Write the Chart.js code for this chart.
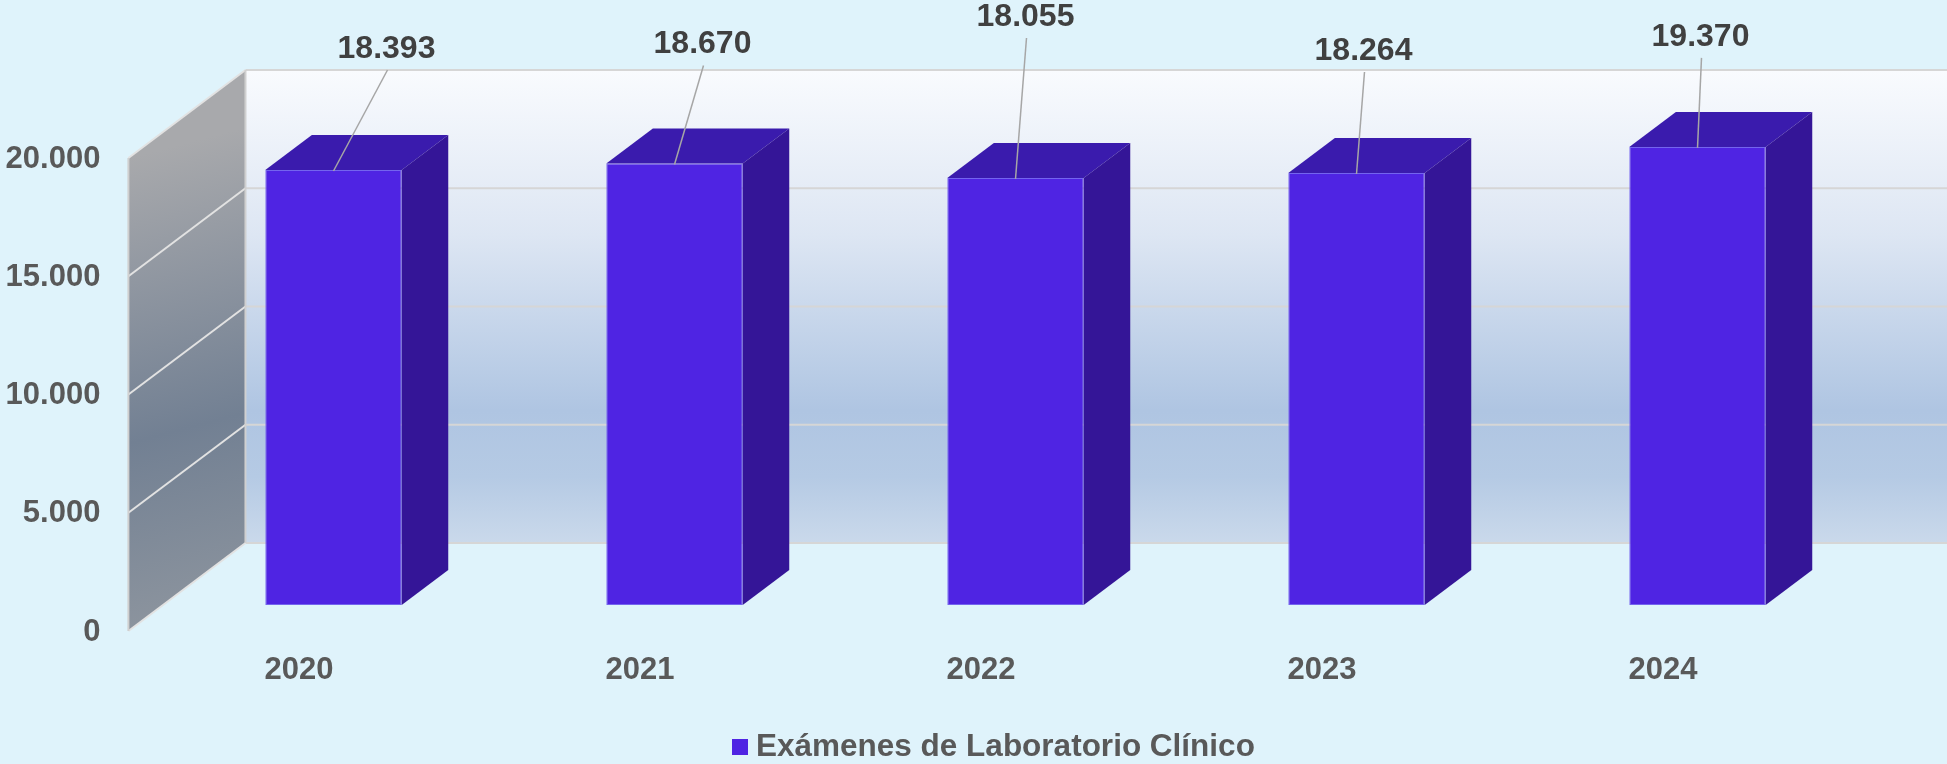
<!doctype html>
<html lang="es">
<head>
  <meta charset="utf-8">
  <title>Exámenes de Laboratorio Clínico</title>
  <script src="https://cdn.jsdelivr.net/npm/chart.js"></script>
  <style>
    html, body { margin: 0; padding: 0; background: #DFF3FB; }
    canvas { display: block; }
  </style>
<script>
// data
var years = ["2020", "2021", "2022", "2023", "2024"];
var examenes = [18393, 18670, 18055, 18264, 19370];
var yTicks = [0, 5000, 10000, 15000, 20000];
var seriesName = "Exámenes de Laboratorio Clínico";

// where each value label sits relative to the top of its bar (Excel moved them by hand)
var labelShift = [[53, -122], [28, -120], [10, -162], [7, -123], [3, -111]];

// 3d look: depth goes up and to the right
var slope = 1.33;       // dx per px of dy
var backDepth = 62;     // bar front plane -> back wall
var frontDepth = 26;    // bar front plane -> floor front edge
var barDepth = 35;

var FONT = '"Liberation Sans", Arial, sans-serif';

function fmt(n) {
  return String(n).replace(/\B(?=(\d{3})+(?!\d))/g, ".");
}

var threeD = {
  id: 'threeD',
  beforeDatasetsDraw: function(chart) {
    var ctx = chart.ctx, a = chart.chartArea, y = chart.scales.y;
    var bx = backDepth * slope, by = -backDepth;
    var fx = -frontDepth * slope, fy = frontDepth;
    var yTop = y.getPixelForValue(yTicks[yTicks.length - 1]);
    var yBot = y.getPixelForValue(0);

    ctx.save();
    // back wall
    var g = ctx.createLinearGradient(0, yTop + by, 0, yBot + by);
    g.addColorStop(0, "#F9FBFE");
    g.addColorStop(0.35, "#DDE6F3");
    g.addColorStop(0.72, "#AFC5E2");
    g.addColorStop(0.86, "#B5CAE4");
    g.addColorStop(1, "#CAD9EB");
    ctx.fillStyle = g;
    ctx.fillRect(a.left + bx, yTop + by, chart.width - (a.left + bx), yBot - yTop);

    // side wall
    var sg = ctx.createLinearGradient(a.left + fx, yTop + fy, a.left + bx, yBot + by + 60);
    sg.addColorStop(0, "#A8A9AC");
    sg.addColorStop(0.6, "#728093");
    sg.addColorStop(1, "#8C949E");
    ctx.fillStyle = sg;
    ctx.beginPath();
    ctx.moveTo(a.left + fx, yTop + fy);
    ctx.lineTo(a.left + bx, yTop + by);
    ctx.lineTo(a.left + bx, yBot + by);
    ctx.lineTo(a.left + fx, yBot + fy);
    ctx.closePath();
    ctx.fill();

    // grid lines on both walls
    ctx.lineWidth = 2;
    yTicks.forEach(function(v) {
      var py = y.getPixelForValue(v);
      ctx.strokeStyle = "#D6D6D6";
      ctx.beginPath();
      ctx.moveTo(a.left + bx, py + by);
      ctx.lineTo(chart.width, py + by);
      ctx.stroke();
      ctx.strokeStyle = "#E2E2E2";
      ctx.beginPath();
      ctx.moveTo(a.left + bx, py + by);
      ctx.lineTo(a.left + fx, py + fy);
      ctx.stroke();
    });
    ctx.strokeStyle = "#D0D0D0";
    ctx.beginPath();
    ctx.moveTo(a.left + fx, yTop + fy);
    ctx.lineTo(a.left + fx, yBot + fy);
    ctx.moveTo(a.left + bx, yTop + by);
    ctx.lineTo(a.left + bx, yBot + by);
    ctx.stroke();

    // y tick labels on the front edge
    ctx.fillStyle = "#595959";
    ctx.font = "bold 31px " + FONT;
    ctx.textAlign = "right";
    ctx.textBaseline = "middle";
    yTicks.forEach(function(v) {
      ctx.fillText(fmt(v), a.left + fx - 28, y.getPixelForValue(v) + fy + 1);
    });
    ctx.restore();
  },
  afterDatasetsDraw: function(chart) {
    var ctx = chart.ctx, a = chart.chartArea, xs = chart.scales.x, y = chart.scales.y;
    var meta = chart.getDatasetMeta(0);
    var dx = barDepth * slope, dy = -barDepth;
    var fx = -frontDepth * slope, fy = frontDepth;

    ctx.save();
    meta.data.forEach(function(bar, i) {
      var p = bar.getProps(['x', 'y', 'width', 'base'], true);
      var l = p.x - p.width / 2, r = p.x + p.width / 2;
      // top
      ctx.fillStyle = "#3A1BAD";
      ctx.beginPath();
      ctx.moveTo(l, p.y);
      ctx.lineTo(l + dx, p.y + dy);
      ctx.lineTo(r + dx, p.y + dy);
      ctx.lineTo(r, p.y);
      ctx.closePath();
      ctx.fill();
      // right side
      ctx.fillStyle = "#341597";
      ctx.beginPath();
      ctx.moveTo(r, p.y);
      ctx.lineTo(r + dx, p.y + dy);
      ctx.lineTo(r + dx, p.base + dy);
      ctx.lineTo(r, p.base);
      ctx.closePath();
      ctx.fill();
    });

    // category labels along the floor front edge
    ctx.fillStyle = "#595959";
    ctx.font = "bold 31px " + FONT;
    ctx.textAlign = "center";
    ctx.textBaseline = "middle";
    years.forEach(function(t, i) {
      ctx.fillText(t, xs.getPixelForValue(i) + fx, y.getPixelForValue(0) + fy + 39);
    });

    // value labels with leader lines
    ctx.font = "bold 32px " + FONT;
    meta.data.forEach(function(bar, i) {
      var p = bar.getProps(['x', 'y'], true);
      var lx = p.x + labelShift[i][0], ly = p.y + labelShift[i][1];
      ctx.strokeStyle = "#A6A6A6";
      ctx.lineWidth = 1.5;
      ctx.beginPath();
      ctx.moveTo(lx + 1, ly + 22);
      ctx.lineTo(p.x, p.y + 1);
      ctx.stroke();
      ctx.fillStyle = "#404040";
      ctx.fillText(fmt(examenes[i]), lx, ly + 1);
    });

    // legend
    ctx.font = "bold 31.5px " + FONT;
    ctx.textAlign = "left";
    ctx.fillStyle = "#4F24E3";
    ctx.fillRect(732, 739, 16, 16);
    ctx.fillStyle = "#595959";
    ctx.fillText(seriesName, 756, 747);
    ctx.restore();
  }
};
</script>
</head>
<body>
<canvas id="bar-chart" width="1947" height="764"></canvas>
<script>
  var ctx = document.getElementById("bar-chart").getContext("2d");
  var myChart = new Chart(ctx, {
    type: 'bar',
    data: {
      labels: years,
      datasets: [{
        label: seriesName,
        data: examenes,
        backgroundColor: "#4F24E3",
        borderColor: "#7464EE",
        borderWidth: 1,
        borderSkipped: false,
        barPercentage: 0.4,
        categoryPercentage: 1
      }]
    },
    options: {
      responsive: false,
      devicePixelRatio: 1,
      animation: false,
      layout: { padding: { left: 163, right: 79, top: 132, bottom: 159 } },
      plugins: { legend: { display: false }, tooltip: { enabled: false } },
      scales: {
        x: { display: false },
        y: { display: false, min: 0, max: 20000 }
      }
    },
    plugins: [threeD]
  });
</script>
</body>
</html>
